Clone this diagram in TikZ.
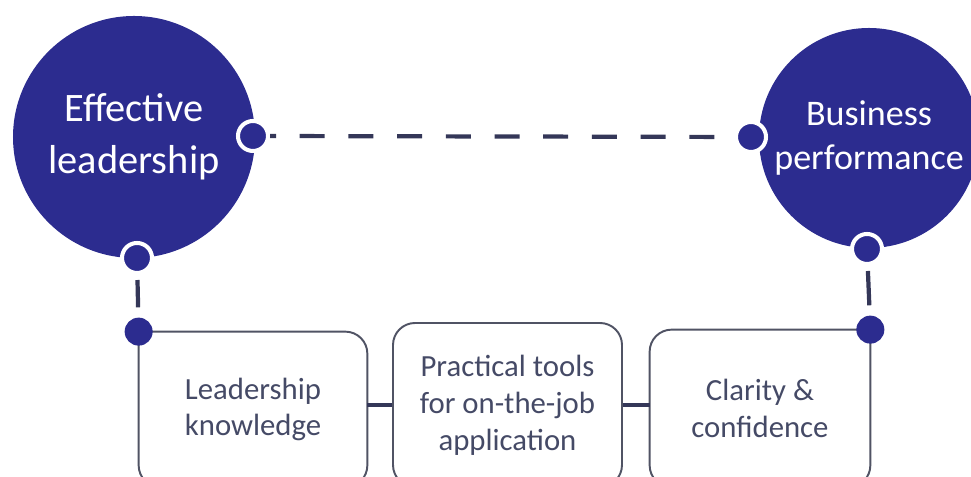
\documentclass[tikz,border=0pt]{standalone}
\usepackage{fontspec}
\setmainfont{Carlito}
\usetikzlibrary{calc}

\definecolor{navy}{RGB}{44,44,143}
\definecolor{linkgray}{RGB}{52,55,88}
\definecolor{boxgray}{RGB}{80,83,100}
\definecolor{boxtext}{RGB}{69,74,102}

\tikzset{
  bigcircle/.style={shape=circle, fill=navy, text=white, align=center, inner sep=0pt},
  ringdot/.style={shape=circle, fill=navy, draw=white, line width=2.3pt, minimum size=0.6cm, inner sep=0pt},
  boxdot/.style={shape=circle, fill=navy, minimum size=0.56cm, inner sep=0pt},
  stagebox/.style={shape=rectangle, minimum width=4.56cm, minimum height=3.1cm, inner sep=0pt, align=center, text=boxtext, font=\fontsize{17.5pt}{21pt}\selectfont},
  boxline/.style={draw=boxgray, line width=1.1pt, rounded corners=0.44cm},
  link/.style={draw=linkgray, line width=2.4pt}
}

\begin{document}
\begin{tikzpicture}

\useasboundingbox (0, 0) rectangle (19.42, 9.54);
\clip (0, 0) rectangle (19.42, 9.54);

\node (lead) [bigcircle, minimum size=4.84cm, font=\fontsize{23pt}{29.5pt}\selectfont] at (2.68, 6.80) {Effective\\leadership};
\node (perf) [bigcircle, minimum size=4.4cm, font=\fontsize{20.5pt}{25.5pt}\selectfont] at (17.38, 6.78) {Business\\performance};

\node (leadR) [ringdot] at (5.06, 6.82) {};
\node (leadB) [ringdot] at (2.74, 4.38) {};
\node (perfL) [ringdot] at (15.02, 6.80) {};
\node (perfB) [ringdot] at (17.34, 4.56) {};

\node (know) [stagebox] at (5.06, 1.35) {Leadership\\knowledge};
\node (tools) [stagebox, boxline, minimum width=4.58cm, minimum height=3.28cm] at (10.15, 1.44) {Practical tools\\for on-the-job\\application};
\node (clar) [stagebox, minimum width=4.4cm, minimum height=3.14cm] at (15.2, 1.37) {Clarity \&\\confidence};

% outer boxes keep one sharp corner under the dot
\draw[boxline] (know.north west) -- (know.north east) -- (know.south east) -- (know.south west) -- (know.north west);
\draw[boxline] (clar.north east) -- (clar.south east) -- (clar.south west) -- (clar.north west) -- (clar.north east);

\draw[link, dash pattern=on 0.5cm off 0.474cm, dash phase=0.38cm] (leadR) -- (perfL);
\draw[link] (tools.west) -- (tools.west -| know.east);
\draw[link] (tools.east) -- (tools.east -| clar.west);

\node (knowdot) [boxdot] at (know.north west) {};
\node (clardot) [boxdot] at (clar.north east) {};

\draw[link, shorten <=0.1cm, shorten >=0.2cm] (leadB) -- (knowdot);
\draw[link, shorten <=0.1cm, shorten >=0.2cm] (perfB) -- (clardot);

\end{tikzpicture}
\end{document}
